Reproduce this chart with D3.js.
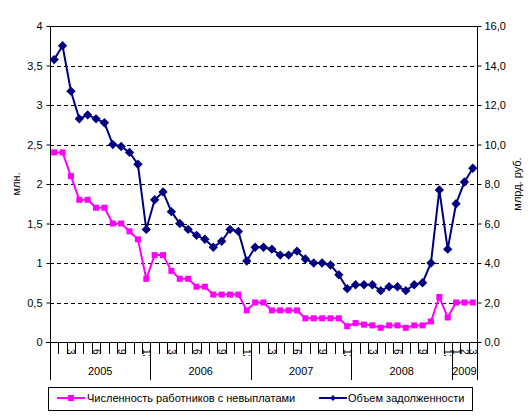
<!DOCTYPE html>
<html>
<head>
<meta charset="utf-8">
<script src="https://cdn.jsdelivr.net/npm/d3@7"></script>
<style>
  body { margin: 0; background: #fff; }
  svg { display: block; font-family: Arial, "Liberation Sans", sans-serif; }
</style>
</head>
<body>
<svg id="chart" width="531" height="419"></svg>
<script>
// years and how many months of each are shown
var years = [2005, 2006, 2007, 2008, 2009];
var monthsInYear = [12, 12, 12, 12, 3];

// workers with wage arrears, mln
var workers = [2.4, 2.4, 2.1, 1.8, 1.8, 1.7, 1.7, 1.5, 1.5, 1.4, 1.3, 0.8,
               1.1, 1.1, 0.9, 0.8, 0.8, 0.7, 0.7, 0.6, 0.6, 0.6, 0.6, 0.4,
               0.5, 0.5, 0.4, 0.4, 0.4, 0.4, 0.3, 0.3, 0.3, 0.3, 0.3, 0.2,
               0.24, 0.22, 0.21, 0.18, 0.21, 0.21, 0.18, 0.21, 0.21, 0.26, 0.57, 0.31,
               0.5, 0.5, 0.5];

// arrears volume, bln rub
var debt = [14.3, 15.0, 12.7, 11.3, 11.5, 11.3, 11.1, 10.0, 9.9, 9.6, 9.0, 5.7,
            7.2, 7.6, 6.6, 6.0, 5.7, 5.4, 5.2, 4.8, 5.1, 5.7, 5.6, 4.1,
            4.8, 4.8, 4.7, 4.4, 4.4, 4.6, 4.2, 4.0, 4.0, 3.9, 3.4, 2.7,
            2.9, 2.9, 2.9, 2.6, 2.8, 2.8, 2.6, 2.9, 3.0, 4.0, 7.7, 4.7,
            7.0, 8.1, 8.8];

var leftTicks = [0, 0.5, 1, 1.5, 2, 2.5, 3, 3.5, 4];
var rightTicks = [0, 2, 4, 6, 8, 10, 12, 14, 16];

var seriesNames = ["Численность работников с невыплатами", "Объем задолженности"];
var leftTitle = "млн.";
var rightTitle = "млрд. руб.";

// build month categories
var cats = [];
years.forEach(function(y, k) {
    for (var m = 1; m <= monthsInYear[k]; m++) cats.push({year: y, month: m});
});
cats.forEach(function(c, i) { c.i = i; });

var svg = d3.select("#chart");
var plotL = 50, plotR = 477, plotT = 26, plotB = 342;

var x = d3.scaleBand().domain(cats.map(function(c) { return c.i; })).range([plotL, plotR]).padding(0);
var yL = d3.scaleLinear().domain([0, 4]).range([plotB, plotT]);
var yR = d3.scaleLinear().domain([0, 16]).range([plotB, plotT]);

var fmt = function(d) { return String(d).replace(".", ","); };

// dashed grid
svg.append("g")
    .selectAll("line")
    .data(leftTicks.filter(function(d) { return d > 0 && d < 4; }))
    .enter().append("line")
    .attr("x1", plotL).attr("x2", plotR)
    .attr("y1", function(d) { return Math.round(yL(d)) + 0.5; })
    .attr("y2", function(d) { return Math.round(yL(d)) + 0.5; })
    .attr("stroke", "#000").attr("stroke-dasharray", "4,3");

// top border of plot area
svg.append("line")
    .attr("x1", plotL).attr("x2", plotR)
    .attr("y1", plotT + 0.5).attr("y2", plotT + 0.5)
    .attr("stroke", "#000");

// left axis
var gl = svg.append("g")
    .attr("transform", "translate(" + (plotL + 0.5) + ",0)")
    .call(d3.axisLeft(yL).tickValues(leftTicks).tickSize(4).tickSizeOuter(0).tickFormat(fmt));
gl.select(".domain").remove();
gl.selectAll("text").attr("x", -8).style("font-size", "11px").attr("fill", "#000");
svg.append("line").attr("x1", plotL + 0.5).attr("x2", plotL + 0.5)
    .attr("y1", plotT).attr("y2", 380).attr("stroke", "#000");

// right axis
var gr = svg.append("g")
    .attr("transform", "translate(" + (plotR + 0.5) + ",0)")
    .call(d3.axisRight(yR).tickValues(rightTicks).tickSize(4).tickSizeOuter(0)
        .tickFormat(function(d) { return fmt(d.toFixed(1)); }));
gr.select(".domain").remove();
gr.selectAll("text").attr("x", 7).style("font-size", "11px").attr("fill", "#000");
svg.append("line").attr("x1", plotR + 0.5).attr("x2", plotR + 0.5)
    .attr("y1", plotT).attr("y2", 380).attr("stroke", "#000");

// x axis line
svg.append("line").attr("x1", plotL - 4).attr("x2", plotR + 4)
    .attr("y1", plotB + 0.5).attr("y2", plotB + 0.5).attr("stroke", "#000");

// month ticks at category boundaries
var bounds = cats.map(function(c) { return x(c.i); }).concat([plotR]);
svg.append("g").selectAll("line")
    .data(bounds)
    .enter().append("line")
    .attr("x1", function(d) { return Math.round(d) + 0.5; })
    .attr("x2", function(d) { return Math.round(d) + 0.5; })
    .attr("y1", plotB).attr("y2", 354)
    .attr("stroke", "#000");

// year boundaries
var yearStart = [];
cats.forEach(function(c) { if (c.month === 1) yearStart.push(c.i); });
svg.append("g").selectAll("line")
    .data(yearStart.map(function(i) { return x(i); }).concat([plotR]))
    .enter().append("line")
    .attr("x1", function(d) { return Math.round(d) + 0.5; })
    .attr("x2", function(d) { return Math.round(d) + 0.5; })
    .attr("y1", plotB).attr("y2", 380)
    .attr("stroke", "#000");

// month labels (rotated, clipped like the original)
svg.append("clipPath").attr("id", "mclip")
    .append("rect").attr("x", plotL).attr("y", 347).attr("width", plotR - plotL).attr("height", 9);
svg.append("g").attr("clip-path", "url(#mclip)")
    .selectAll("text")
    .data(cats.filter(function(c) { return c.month % 3 === 0 || c.year === 2009; }))
    .enter().append("text")
    .attr("transform", function(c) {
        return "translate(" + (x(c.i) + x.bandwidth() / 2 - 3.5) + ",349) rotate(90)";
    })
    .style("font-size", "10px")
    .text(function(c) { return c.month; });

// year labels
svg.append("g").selectAll("text")
    .data(years)
    .enter().append("text")
    .attr("x", function(y) {
        var f = cats.filter(function(c) { return c.year === y; });
        return (x(f[0].i) + x(f[f.length - 1].i) + x.bandwidth()) / 2;
    })
    .attr("y", 375)
    .attr("text-anchor", "middle")
    .style("font-size", "11px")
    .text(function(y) { return y; });

// axis titles
svg.append("text").attr("transform", "translate(20," + ((plotT + plotB) / 2) + ") rotate(-90)")
    .attr("text-anchor", "middle").style("font-size", "11px").text(leftTitle);
svg.append("text").attr("transform", "translate(521," + ((plotT + plotB) / 2) + ") rotate(-90)")
    .attr("text-anchor", "middle").style("font-size", "11px").text(rightTitle);

var cx = function(d, i) { return x(i) + x.bandwidth() / 2; };

// pink series
svg.append("path")
    .datum(workers)
    .attr("fill", "none").attr("stroke", "#FF00FF").attr("stroke-width", 2)
    .attr("d", d3.line().x(cx).y(function(d) { return yL(d); }));
svg.append("g").selectAll("rect")
    .data(workers)
    .enter().append("rect")
    .attr("x", function(d, i) { return cx(d, i) - 3; })
    .attr("y", function(d) { return yL(d) - 3; })
    .attr("width", 6).attr("height", 6)
    .attr("fill", "#FF00FF");

// blue series
var diamond = d3.symbol().type(d3.symbolDiamond2).size(56);
svg.append("path")
    .datum(debt)
    .attr("fill", "none").attr("stroke", "#000080").attr("stroke-width", 2)
    .attr("d", d3.line().x(cx).y(function(d) { return yR(d); }));
svg.append("g").selectAll("path")
    .data(debt)
    .enter().append("path")
    .attr("transform", function(d, i) { return "translate(" + cx(d, i) + "," + yR(d) + ")"; })
    .attr("d", diamond)
    .attr("fill", "#000080");

// legend
var lg = svg.append("g");
lg.append("rect").attr("x", 48.5).attr("y", 387.5).attr("width", 424).attr("height", 23)
    .attr("fill", "#fff").attr("stroke", "#000");
lg.append("line").attr("x1", 57).attr("x2", 85).attr("y1", 398).attr("y2", 398)
    .attr("stroke", "#FF00FF").attr("stroke-width", 2);
lg.append("rect").attr("x", 68).attr("y", 395).attr("width", 6).attr("height", 6).attr("fill", "#FF00FF");
lg.append("text").attr("x", 87).attr("y", 402).style("font-size", "11px").text(seriesNames[0]);
lg.append("line").attr("x1", 319).attr("x2", 347).attr("y1", 398).attr("y2", 398)
    .attr("stroke", "#000080").attr("stroke-width", 2);
lg.append("path").attr("transform", "translate(333,398)").attr("d", d3.symbol().type(d3.symbolDiamond2).size(24))
    .attr("fill", "#000080");
lg.append("text").attr("x", 348).attr("y", 402).style("font-size", "11px").text(seriesNames[1]);
</script>
</body>
</html>
